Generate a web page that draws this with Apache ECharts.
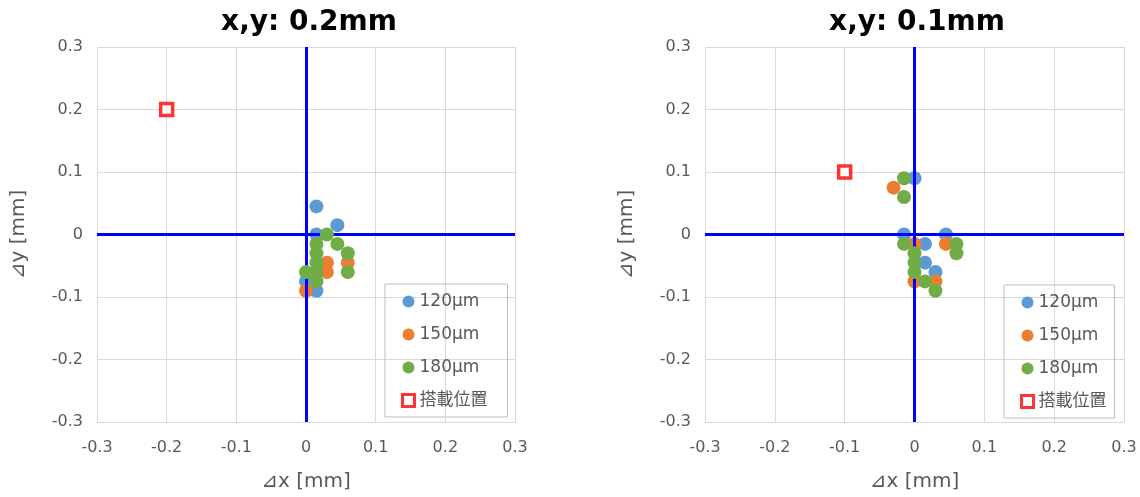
<!DOCTYPE html>
<html>
<head>
<meta charset="utf-8">
<script src="https://cdn.jsdelivr.net/npm/echarts@6/dist/echarts.min.js"></script>
<style>
html,body{margin:0;padding:0;background:#fff;}
#main{width:1140px;height:497px;}
</style>
</head>
<body>
<div id="main"></div>
<script>
// ---- Data ----
const titles = ['x,y: 0.2mm', 'x,y: 0.1mm'];
const seriesNames = ['120μm', '150μm', '180μm', '搭載位置'];
const xTicks = [-0.3, -0.2, -0.1, 0, 0.1, 0.2, 0.3];

// Left chart (0.2mm)
const L_120 = [[0.015, 0.045], [0.045, 0.015], [0.015, 0], [0, -0.075], [0.015, -0.09]];
const L_150 = [[0.03, -0.045], [0.03, -0.06], [0.06, -0.045], [0, -0.09]];
const L_180 = [[0.03, 0], [0.015, -0.015], [0.045, -0.015], [0.015, -0.03], [0.06, -0.03],
               [0.015, -0.045], [0.015, -0.06], [0, -0.06], [0.06, -0.06], [0.015, -0.075]];
const L_pos = [[-0.2, 0.2]];

// Right chart (0.1mm)
const R_120 = [[0, 0.09], [-0.015, 0], [0.015, -0.015], [0.045, 0], [0.015, -0.045], [0.03, -0.06]];
const R_150 = [[-0.03, 0.075], [0, -0.015], [0.045, -0.015], [0, -0.075], [0.03, -0.075]];
const R_180 = [[-0.015, 0.09], [-0.015, 0.06], [-0.015, -0.015], [0, -0.03], [0.06, -0.015],
               [0.06, -0.03], [0, -0.045], [0, -0.06], [0.015, -0.075], [0.03, -0.09]];
const R_pos = [[-0.1, 0.1]];

const colors = ['#5b9bd5', '#ed7d31', '#70ad47'];
const FONT = '"DejaVu Sans", Verdana, "Noto Sans CJK JP", sans-serif';

const chart = echarts.init(document.getElementById('main'));

const grids = [
  {left: 97, top: 47, width: 418, height: 378},
  {left: 705, top: 47, width: 419, height: 378}
];

function fmt(v) { const r = Math.round(v * 10) / 10; return r === 0 ? '0' : String(r); }

function xAxisDef(i) {
  return {
    type: 'value', gridIndex: i, min: -0.3, max: 0.3, interval: 0.1,
    name: '⊿x [mm]', nameLocation: 'middle', nameGap: 50,
    nameTextStyle: {fontSize: 20, color: '#595959', fontFamily: FONT},
    axisLine: {show: false}, axisTick: {show: false},
    axisLabel: {fontSize: 16, color: '#595959', margin: 18, fontFamily: FONT, formatter: fmt},
    splitLine: {show: true, lineStyle: {color: '#d9d9d9', width: 1}}
  };
}
function yAxisDef(i) {
  return {
    type: 'value', gridIndex: i, min: -0.3, max: 0.3, interval: 0.1,
    name: '⊿y [mm]', nameLocation: 'middle', nameGap: 68, nameRotate: 90,
    nameTextStyle: {fontSize: 20, color: '#595959', fontFamily: FONT},
    axisLine: {show: false}, axisTick: {show: false},
    axisLabel: {fontSize: 16, color: '#595959', margin: 14, fontFamily: FONT, formatter: fmt},
    splitLine: {show: true, lineStyle: {color: '#d9d9d9', width: 1}}
  };
}

function buildSeries(i, d120, d150, d180, dpos) {
  const out = [];
  out.push({
    type: 'scatter', xAxisIndex: i, yAxisIndex: i, data: [], z: 1, silent: true,
    markLine: {
      silent: true, symbol: 'none', label: {show: false},
      lineStyle: {color: '#0000ff', width: 3, type: 'solid'},
      data: [{xAxis: 0}, {yAxis: 0}]
    }
  });
  [d120, d150, d180].forEach((d, k) => {
    out.push({
      name: seriesNames[k], type: 'scatter', xAxisIndex: i, yAxisIndex: i,
      data: d, symbol: 'circle', symbolSize: 14, z: 3 + k,
      itemStyle: {color: colors[k], opacity: 1}
    });
  });
  out.push({
    name: seriesNames[3], type: 'scatter', xAxisIndex: i, yAxisIndex: i,
    data: dpos, symbol: 'rect', symbolSize: 12, z: 7,
    itemStyle: {color: '#ffffff', borderColor: '#ff0000', borderWidth: 3.5}
  });
  return out;
}

function legendDef(left, top, padRight) {
  return {
    left: left, top: top, orient: 'vertical',
    itemWidth: 12, itemHeight: 12, itemGap: 16,
    padding: [9, padRight, 8, 16],
    borderColor: '#bfbfbf', borderWidth: 1,
    textStyle: {fontSize: 17, color: '#595959', fontFamily: FONT},
    data: [
      {name: '120μm', icon: 'circle'},
      {name: '150μm', icon: 'circle'},
      {name: '180μm', icon: 'circle'},
      {name: '搭載位置', icon: 'rect',
       itemStyle: {color: '#ffffff', borderColor: '#ff0000', borderWidth: 3}}
    ]
  };
}

chart.setOption({
  animation: false,
  title: [
    {text: titles[0], left: 304, top: 4, textAlign: 'center',
     textStyle: {fontSize: 28, fontWeight: 'bold', color: '#000', fontFamily: FONT}},
    {text: titles[1], left: 912, top: 4, textAlign: 'center',
     textStyle: {fontSize: 28, fontWeight: 'bold', color: '#000', fontFamily: FONT}}
  ],
  grid: grids,
  xAxis: [xAxisDef(0), xAxisDef(1)],
  yAxis: [yAxisDef(0), yAxisDef(1)],
  legend: [legendDef(385, 284, 20), legendDef(1004, 285, 8)],
  series: [].concat(
    buildSeries(0, L_120, L_150, L_180, L_pos),
    buildSeries(1, R_120, R_150, R_180, R_pos)
  )
});
</script>
</body>
</html>
